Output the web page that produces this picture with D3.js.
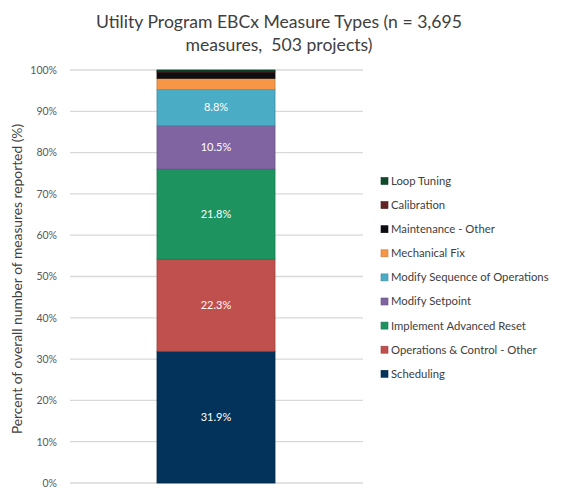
<!DOCTYPE html>
<html>
<head>
<meta charset="utf-8">
<script src="https://cdn.jsdelivr.net/npm/d3@7"></script>
<style>
  body { margin: 0; background: #fff; }
  svg { display: block; font-family: Lato, "Open Sans", sans-serif; }
</style>
</head>
<body>
<script>
// Data, stacked bottom to top
let categories = ["Scheduling", "Operations & Control - Other", "Implement Advanced Reset",
                  "Modify Setpoint", "Modify Sequence of Operations", "Mechanical Fix",
                  "Maintenance - Other", "Calibration", "Loop Tuning"];
let values = [31.9, 22.3, 21.8, 10.5, 8.8, 2.7, 1.5, 0.2, 0.3];
let labels = ["31.9%", "22.3%", "21.8%", "10.5%", "8.8%", "", "", "", ""];
let colors = ["#03335a", "#c0504d", "#1d9460", "#8064a2", "#4bacc6", "#f79646", "#0d0d12", "#632523", "#0f4a2a"];
let yTicks = [0, 10, 20, 30, 40, 50, 60, 70, 80, 90, 100];

let svgWidth = 561;
let svgHeight = 488;

let svg = d3.select("body")
            .append("svg")
            .attr("width", svgWidth)
            .attr("height", svgHeight);

// Scales
let yScale = d3.scaleLinear().domain([0, 100]).range([483, 70]);

// Gridlines
svg.append("g")
   .selectAll("line")
   .data(yTicks)
   .enter()
   .append("line")
   .attr("x1", 70)
   .attr("x2", 363)
   .attr("y1", d => yScale(d))
   .attr("y2", d => yScale(d))
   .attr("stroke", "#d9d9d9")
   .attr("stroke-width", 1.3);

// Y axis labels
let yAxis = d3.axisLeft(yScale).tickValues(yTicks).tickFormat(d => d + "%").tickSize(0).tickPadding(0);
let yg = svg.append("g").attr("transform", "translate(57,0)").call(yAxis);
yg.select(".domain").remove();
yg.selectAll("text").attr("fill", "#595959").attr("font-size", 10.5).attr("font-family", "Lato, sans-serif");

// Stack the segments
let stacked = [];
let acc = 0;
values.forEach((v, i) => {
    stacked.push({ name: categories[i], y0: acc, y1: acc + v, color: colors[i], label: labels[i] });
    acc += v;
});

let barX = 157;
let barW = 118;

svg.append("g")
   .selectAll("rect")
   .data(stacked)
   .enter()
   .append("rect")
   .attr("x", barX)
   .attr("width", barW)
   .attr("y", d => yScale(d.y1))
   .attr("height", d => yScale(d.y0) - yScale(d.y1))
   .attr("fill", d => d.color)
   .attr("stroke", d => d3.color(d.color).darker(0.6))
   .attr("stroke-width", 0.8);

svg.append("g")
   .selectAll("text")
   .data(stacked.filter(d => d.label))
   .enter()
   .append("text")
   .attr("x", barX + barW / 2)
   .attr("y", d => yScale((d.y0 + d.y1) / 2))
   .attr("dy", "0.35em")
   .attr("text-anchor", "middle")
   .attr("fill", "#ffffff")
   .attr("font-size", 11)
   .text(d => d.label);

// Legend (top to bottom, reversed order)
let legendData = stacked.slice().reverse();
let legend = svg.append("g")
                .selectAll("g")
                .data(legendData)
                .enter()
                .append("g")
                .attr("transform", (d, i) => `translate(381, ${181 + i * 24.1})`);
legend.append("rect")
      .attr("x", 0)
      .attr("y", -3.5)
      .attr("width", 7)
      .attr("height", 7)
      .attr("fill", d => d.color)
      .attr("stroke", d => d3.color(d.color).darker(0.6))
      .attr("stroke-width", 0.6);
legend.append("text")
      .attr("x", 10)
      .attr("dy", "0.35em")
      .attr("fill", "#404040")
      .attr("font-size", 11.3)
      .text(d => d.name);

// Title
let title = svg.append("text")
               .attr("text-anchor", "middle")
               .attr("fill", "#404040")
               .attr("font-size", 17.6)
               .style("white-space", "pre");
title.append("tspan").attr("x", 279).attr("y", 28).text("Utility Program EBCx Measure Types (n = 3,695");
title.append("tspan").attr("x", 279).attr("y", 51).text("measures,  503 projects)");

// Y axis title
svg.append("text")
   .attr("transform", "translate(22, 279) rotate(-90)")
   .attr("text-anchor", "middle")
   .attr("fill", "#404040")
   .attr("font-size", 13.8)
   .text("Percent of overall number of measures reported (%)");
</script>
</body>
</html>
